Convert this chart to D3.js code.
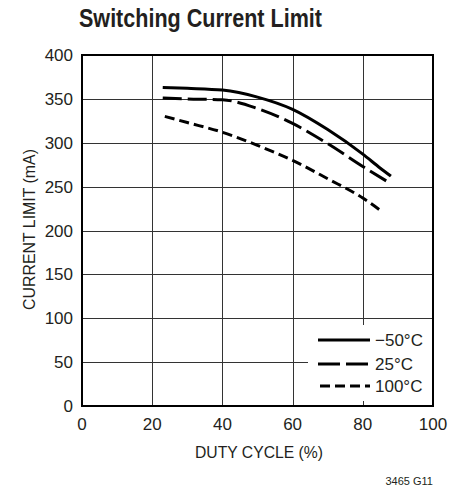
<!DOCTYPE html>
<head>
<meta charset="utf-8">
<style>
body { margin: 0; background: #fff; }
svg text { font-family: "Liberation Sans Narrow", "Arial Narrow", "Liberation Sans", sans-serif; fill: #231f20; }
.grid line { stroke: #333; stroke-width: 1px; shape-rendering: crispEdges; }
.curve { fill: none; stroke: #000; stroke-width: 3px; }
</style>
</head>
<body>
<script src="https://cdnjs.cloudflare.com/ajax/libs/d3/7.8.5/d3.min.js"></script>
<script>
// duty cycle (%) vs current limit (mA)
var dutyCycle = [23, 30, 40, 50, 60, 70, 80, 85, 88];
var limitCold = [363, 362, 360, 352, 338, 315, 287, 271, 262];   // -50C
var dutyMid = [23, 30, 40, 50, 60, 70, 80, 87.7];
var limitRoom = [351, 350, 349, 339, 322, 299, 273, 254];        // 25C
var dutyHot = [23.6, 30, 40, 50, 60, 70, 80, 85];
var limitHot = [330, 323, 312, 297, 280, 259, 237, 223];         // 100C

var xTicks = [0, 20, 40, 60, 80, 100];
var yTicks = [0, 50, 100, 150, 200, 250, 300, 350, 400];
var legendLabels = ["\u221250\u00b0C", "25\u00b0C", "100\u00b0C"];
var dashes = [null, "19,6", "10,5"];

var W = 452, H = 491;
var mLeft = 82, mRight = 433, mTop = 55, mBottom = 406;

var svg = d3.select("body").append("svg")
    .attr("width", W)
    .attr("height", H);

var x = d3.scaleLinear().domain([0, 100]).range([mLeft, mRight]);
var y = d3.scaleLinear().domain([0, 400]).range([mBottom, mTop]);

svg.append("text")
    .attr("x", 79).attr("y", 27)
    .attr("textLength", 243).attr("lengthAdjust", "spacingAndGlyphs")
    .style("font-size", "25px").style("font-weight", "bold")
    .text("Switching Current Limit");

var grid = svg.append("g").attr("class", "grid");
grid.selectAll(".vx").data(xTicks.slice(1, -1)).enter().append("line")
    .attr("x1", function(d) { return Math.round(x(d)) + 0.5; })
    .attr("x2", function(d) { return Math.round(x(d)) + 0.5; })
    .attr("y1", mTop).attr("y2", mBottom);
grid.selectAll(".hy").data(yTicks.slice(1, -1)).enter().append("line")
    .attr("y1", function(d) { return Math.round(y(d)) + 0.5; })
    .attr("y2", function(d) { return Math.round(y(d)) + 0.5; })
    .attr("x1", mLeft).attr("x2", mRight);

// legend background hides the grid under it
svg.append("rect")
    .attr("x", 308).attr("y", 325)
    .attr("width", 124).attr("height", 76)
    .attr("fill", "#fff");

var line = d3.line()
    .x(function(d) { return x(d[0]); })
    .y(function(d) { return y(d[1]); })
    .curve(d3.curveMonotoneX);

var series = [
  d3.zip(dutyCycle, limitCold),
  d3.zip(dutyMid, limitRoom),
  d3.zip(dutyHot, limitHot)
];

series.forEach(function(s, i) {
  svg.append("path")
      .attr("class", "curve")
      .attr("d", line(s))
      .attr("stroke-dasharray", dashes[i]);
});

// frame
svg.append("rect")
    .attr("x", mLeft).attr("y", mTop)
    .attr("width", mRight - mLeft).attr("height", mBottom - mTop)
    .attr("fill", "none").attr("stroke", "#000").attr("stroke-width", 2);

// axes labels
svg.selectAll(".yt").data(yTicks).enter().append("text")
    .attr("x", 73)
    .attr("y", function(d) { return y(d) + 6; })
    .attr("text-anchor", "end")
    .style("font-size", "17px")
    .text(function(d) { return d; });

svg.selectAll(".xt").data(xTicks).enter().append("text")
    .attr("x", function(d) { return x(d); })
    .attr("y", 430)
    .attr("text-anchor", "middle")
    .style("font-size", "17px")
    .text(function(d) { return d; });

svg.append("text")
    .attr("x", 195).attr("y", 458)
    .attr("textLength", 128).attr("lengthAdjust", "spacingAndGlyphs")
    .style("font-size", "17px")
    .text("DUTY CYCLE (%)");

svg.append("text")
    .attr("transform", "translate(35,310) rotate(-90)")
    .attr("textLength", 161).attr("lengthAdjust", "spacingAndGlyphs")
    .style("font-size", "17px")
    .text("CURRENT LIMIT (mA)");

svg.append("text")
    .attr("x", 433).attr("y", 485)
    .attr("text-anchor", "end")
    .style("font-size", "11px")
    .text("3465 G11");

// legend
var legY = [340, 364, 386];
legendLabels.forEach(function(t, i) {
  svg.append("line")
      .attr("x1", i == 2 ? 320 : 318).attr("x2", 370)
      .attr("y1", legY[i]).attr("y2", legY[i])
      .attr("stroke", "#000").attr("stroke-width", 3)
      .attr("stroke-dasharray", i == 1 ? "22,6" : dashes[i]);
  svg.append("text")
      .attr("x", 375).attr("y", legY[i] + 6)
      .style("font-size", "17px")
      .text(t);
});
</script>
</body>
